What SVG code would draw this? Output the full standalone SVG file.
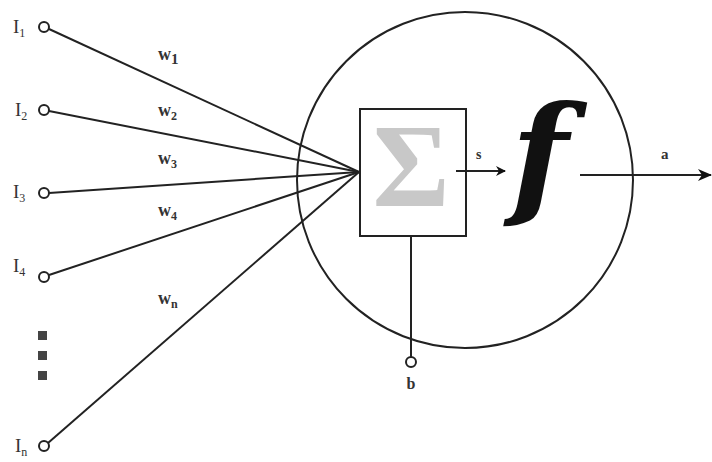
<svg xmlns="http://www.w3.org/2000/svg" width="712" height="462" viewBox="0 0 712 462">
<defs>
<style>
.ln{stroke:#222;stroke-width:2;fill:none}
.pin{stroke:#222;stroke-width:2;fill:#fff}
.t{font-family:"Liberation Serif","Times New Roman",serif;fill:#333}
.lbl{font-size:19px}
.w{font-size:18px;font-weight:bold}
.sub{font-size:12px}
.sq{fill:#444}
</style>
<marker id="ah" viewBox="0 0 10 10" refX="9" refY="5" markerWidth="10" markerHeight="10" markerUnits="userSpaceOnUse" orient="auto">
<path d="M0,0 L10,5 L0,10 L3,5 Z" fill="#111"/>
</marker>
<marker id="ah2" viewBox="0 0 14 12" refX="13" refY="6" markerWidth="14" markerHeight="12" markerUnits="userSpaceOnUse" orient="auto">
<path d="M0,0 L14,6 L0,12 L4,6 Z" fill="#111"/>
</marker>
</defs>
<rect width="712" height="462" fill="#fff"/>
<g id="neuron">
<circle cx="465" cy="180" r="168" class="ln" stroke-width="1.8"/>
</g>
<g id="connectors">
<line x1="49" y1="29" x2="359" y2="172" class="ln"/>
<line x1="49" y1="111" x2="359" y2="172" class="ln"/>
<line x1="49" y1="193" x2="359" y2="172" class="ln"/>
<line x1="49" y1="275" x2="359" y2="172" class="ln"/>
<line x1="48" y1="443" x2="359" y2="172" class="ln"/>
<line x1="411" y1="236" x2="411" y2="357" class="ln"/>
<line x1="456" y1="171" x2="505" y2="171" class="ln" marker-end="url(#ah)"/>
<line x1="580" y1="175" x2="711" y2="175" class="ln" marker-end="url(#ah2)"/>
</g>
<g id="sum">
<rect x="360" y="109" width="106" height="127" class="ln"/>
<text x="411" y="206" text-anchor="middle" font-family="'Liberation Serif',serif" font-size="118" font-weight="bold" fill="#c8c8c8">Σ</text>
</g>
<g id="activation">
<text x="511" y="201" font-family="'DejaVu Serif',serif" font-size="133" font-style="italic" font-weight="bold" fill="#111">f</text>
</g>
<g id="I1"><circle cx="44" cy="27" r="5" class="pin"/><text x="13" y="33" class="t lbl">I<tspan class="sub" dy="4">1</tspan></text></g>
<g id="I2"><circle cx="44" cy="110" r="5" class="pin"/><text x="15" y="116" class="t lbl">I<tspan class="sub" dy="4">2</tspan></text></g>
<g id="I3"><circle cx="44" cy="193" r="5" class="pin"/><text x="13" y="198" class="t lbl">I<tspan class="sub" dy="4">3</tspan></text></g>
<g id="I4"><circle cx="44" cy="277" r="5" class="pin"/><text x="13" y="272" class="t lbl">I<tspan class="sub" dy="4">4</tspan></text></g>
<g id="In"><circle cx="44" cy="446" r="5" class="pin"/><text x="15" y="452" class="t lbl">I<tspan class="sub" dy="4">n</tspan></text></g>
<g id="dots">
<rect x="38" y="331" width="9" height="9" class="sq"/>
<rect x="38" y="351" width="9" height="9" class="sq"/>
<rect x="38" y="371" width="9" height="9" class="sq"/>
</g>
<g id="weights">
<text x="158" y="60" class="t w">w<tspan dy="4" font-size="15">1</tspan></text>
<text x="158" y="116" class="t w">w<tspan class="sub" dy="4">2</tspan></text>
<text x="158" y="164" class="t w">w<tspan class="sub" dy="4">3</tspan></text>
<text x="158" y="216" class="t w">w<tspan class="sub" dy="4">4</tspan></text>
<text x="158" y="304" class="t w">w<tspan class="sub" dy="4">n</tspan></text>
</g>
<g id="b"><circle cx="411" cy="362" r="5" class="pin"/><text x="411" y="389" text-anchor="middle" class="t" font-size="16" font-weight="bold">b</text></g>
<text x="476" y="159" class="t" font-size="14" font-weight="bold">s</text>
<text x="661" y="159" class="t" font-size="15" font-weight="bold">a</text>
</svg>
